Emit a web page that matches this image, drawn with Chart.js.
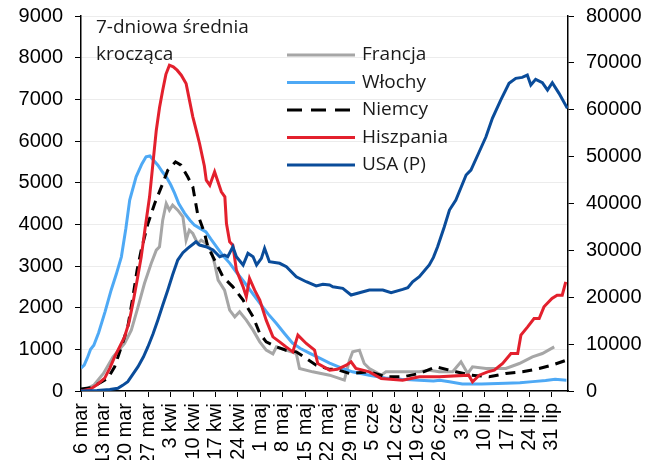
<!DOCTYPE html>
<html lang="pl">
<head>
<meta charset="UTF-8">
<title>7-dniowa średnia krocząca</title>
<style>
    body { margin: 0; background: #fff; }
    #chart { display: block; }
</style>
</head>
<body>
<canvas id="chart" width="662" height="460"></canvas>

<script src="https://cdn.jsdelivr.net/npm/chart.js"></script>
<script>
    // x = dzień od 6 marca, y = wartość (7-dniowa średnia)
    const tickLabels = ['6 mar','13 mar','20 mar','27 mar','3 kwi','10 kwi','17 kwi','24 kwi','1 maj','8 maj',
        '15 maj','22 maj','29 maj','5 cze','12 cze','19 cze','26 cze','3 lip','10 lip','17 lip','24 lip','31 lip'];

    const francja = [[0,0],[2,60],[4,140],[7,420],[10,820],[13.6,1140],[15.7,1460],[17.8,2020],[19.8,2580],
        [21.9,3060],[23.5,3380],[24.5,3460],[25.5,4100],[26.6,4500],[27.6,4340],[28.6,4460],[30.2,4340],
        [31.8,4180],[32.8,3620],[33.8,3860],[34.9,3780],[36.4,3540],[37.5,3620],[39.1,3540],[40.5,3400],
        [41.7,3060],[42.8,2660],[44.8,2420],[46.4,1940],[48,1780],[49.5,1900],[51.6,1700],[53.7,1460],
        [55.8,1180],[57.8,980],[59.9,890],[61,1060],[64,980],[67.2,900],[68.2,540],[72.3,460],[77.6,380],
        [82.2,260],[83.8,740],[84.8,940],[86.9,980],[88.4,660],[90,540],[93.7,380],[95.2,460],[100,460],
        [105.6,460],[108.7,500],[111.8,460],[116,460],[118.6,700],[120.7,420],[122.2,580],[126.4,540],
        [132.6,540],[136.8,660],[140.9,820],[144,900],[147.7,1060]];

    const wlochy = [[0,550],[1,620],[2,800],[3,1000],[4,1100],[5.5,1400],[7.5,1900],[9.4,2420],[11,2800],
        [12.6,3220],[14,3900],[15.2,4580],[17.2,5140],[19,5450],[20.3,5620],[21.5,5640],[22.5,5550],[24,5420],
        [25.5,5250],[26.6,5140],[28,4950],[29.2,4750],[30.5,4500],[32.3,4270],[34,4100],[35.4,3980],[37,3910],
        [39,3820],[40.5,3650],[42.3,3460],[44.3,3250],[46.4,3070],[48.5,2850],[50.5,2660],[53,2400],
        [55.8,2110],[58.4,1850],[61,1620],[63.5,1380],[66,1150],[68.5,1020],[71.3,910],[74.5,790],[77.6,670],
        [81,560],[84.7,460],[90,380],[95,310],[100,280],[105.6,260],[110,240],[112,260],[115,220],[119,170],
        [125,170],[132.6,185],[137,200],[141,225],[145,250],[148,280],[151.5,260]];

    const niemcy = [[0,50],[3,80],[6,200],[8.4,310],[10.5,580],[12.6,1060],[14.6,1540],[16.2,2260],
        [17.5,2900],[18.8,3380],[20.9,4020],[23,4500],[25.5,4980],[27.1,5300],[28.6,5420],[29.5,5500],
        [31.2,5420],[33.3,5140],[34.9,4900],[36.4,4250],[38.5,3800],[39.6,3460],[41.2,3220],[44.3,2740],
        [47.4,2500],[50.6,2180],[53.7,1780],[55.8,1380],[57.8,1180],[61,1060],[64,980],[67.2,940],[70.3,780],
        [73.4,620],[77.6,520],[79.7,520],[83.8,420],[90,460],[95.2,340],[100.4,340],[105.6,420],[110.8,580],
        [115,500],[117,460],[122,380],[127.4,340],[132.6,420],[137.8,460],[143,540],[147,620],[151.5,740]];

    const hiszpania = [[0,0],[3,50],[5,150],[7.4,310],[9,550],[10.5,820],[12,1050],[13.6,1300],[15,1650],
        [16.2,2110],[17.5,2650],[18.8,3220],[20,3900],[21.4,4660],[22.5,5500],[23.5,6260],[24.5,6800],
        [25.5,7220],[26.5,7600],[27.6,7820],[28.8,7780],[30,7700],[31.3,7580],[32.8,7380],[33.8,7000],
        [34.9,6580],[36,6250],[37,5940],[38.5,5400],[39.1,5060],[40.2,4940],[41.7,5260],[43.8,4780],
        [44.9,4660],[45.4,4020],[46.4,3580],[47.4,3500],[48.5,2900],[50.6,2500],[51.6,2260],[52.6,2700],
        [54.2,2420],[55.8,2180],[57.8,1700],[59.9,1300],[62,1180],[64,1060],[66.1,940],[67.7,1340],
        [70.3,1140],[72.9,980],[73.9,660],[77.6,500],[80,520],[82.8,620],[84.3,700],[85.8,540],[90,460],
        [93.7,300],[100.4,260],[105.6,340],[111.8,340],[121,380],[122.2,220],[124.3,380],[126.9,460],
        [129,500],[131.6,660],[134.2,900],[136.3,900],[137.3,1340],[139.4,1540],[141.4,1740],[143,1740],
        [144.5,2020],[147,2220],[148.6,2300],[150.2,2300],[151.3,2620]];

    // prawa oś
    const usa = [[0,0],[5,100],[9,300],[11.5,570],[13,1200],[14.6,2000],[16,3400],[17.8,5200],[19.5,7300],
        [20.9,9450],[22.5,12200],[24,15150],[25.5,18300],[27.1,21540],[28.6,24800],[30.2,27940],[31.8,29500],
        [33.3,30440],[35.9,31850],[37,31140],[39,30780],[41.2,30080],[43.3,28650],[44.8,29010],[45.8,28650],
        [47.4,30780],[48.5,28650],[50.6,26880],[52.1,29370],[53.7,28650],[54.8,26880],[56.3,28300],
        [57.3,30440],[58.8,27580],[62,27240],[64.1,26510],[67.2,24380],[70.3,23310],[73.4,22400],[75.5,22760],
        [77.6,22610],[78.6,22250],[81.7,21900],[84.3,20480],[86.9,20970],[90,21540],[94.2,21540],[96.8,20970],
        [100.4,21690],[102,22040],[103.5,23310],[105.6,24380],[108.7,26880],[110,28500],[111.3,30780],
        [113.4,35050],[115,38610],[117,40740],[120.2,46070],[121.7,47140],[124.3,51040],[126.4,54240],
        [128.4,58170],[131,62070],[133.6,65630],[135.7,66700],[137.7,66910],[139.3,67400],[140.4,65270],
        [141.9,66480],[144,65770],[145.6,64200],[147.1,65770],[149.2,63500],[151.8,60300]];

    const toXY = arr => arr.map(p => ({ x: p[0], y: p[1] }));

    const tickFont = { family: 'Arial, "Liberation Sans", sans-serif', size: 20 };
    const textFont = '19px "Open Sans", sans-serif';

    // legenda i podpis wewnątrz wykresu
    const legendInside = {
        id: 'legendInside',
        afterDraw(chart) {
            const ctx = chart.ctx;
            ctx.save();
            ctx.fillStyle = '#1a1a1a';
            ctx.font = textFont;
            ctx.textBaseline = 'alphabetic';
            ctx.textAlign = 'left';
            ctx.fillText('7-dniowa średnia', 96, 33);
            ctx.fillText('krocząca', 96, 60);

            ctx.textBaseline = 'middle';
            chart.data.datasets.forEach((ds, i) => {
                const y = 55 + i * 27.5;
                ctx.beginPath();
                ctx.strokeStyle = ds.borderColor;
                ctx.lineWidth = 3;
                ctx.setLineDash(ds.borderDash ? [15, 9] : []);
                ctx.moveTo(287, y);
                ctx.lineTo(355, y);
                ctx.stroke();
                ctx.setLineDash([]);
                ctx.fillText(ds.label, 362, y);
            });
            ctx.restore();
        }
    };

    // bez dodatkowego marginesu na pół etykiety u góry osi
    const noVPad = s => { s.paddingTop = 0; s.paddingBottom = 0; };

    new Chart(document.getElementById('chart'), {
        type: 'line',
        data: {
            datasets: [
                { label: 'Francja', data: toXY(francja), borderColor: '#a6a6a6', yAxisID: 'y', order: 5 },
                { label: 'Włochy', data: toXY(wlochy), borderColor: '#4ea9f5', yAxisID: 'y', order: 4 },
                { label: 'Niemcy', data: toXY(niemcy), borderColor: '#000000', borderDash: [10, 7], yAxisID: 'y', order: 3 },
                { label: 'Hiszpania', data: toXY(hiszpania), borderColor: '#e3202d', yAxisID: 'y', order: 2 },
                { label: 'USA (P)', data: toXY(usa), borderColor: '#0a4c9a', yAxisID: 'y1', order: 1 }
            ]
        },
        options: {
            responsive: false,
            animation: false,
            elements: {
                line: { borderWidth: 3, tension: 0, fill: false },
                point: { radius: 0 }
            },
            layout: { padding: { top: 16, left: 0, right: 0, bottom: 0 } },
            plugins: {
                legend: { display: false },
                tooltip: { enabled: false }
            },
            scales: {
                x: {
                    type: 'linear',
                    min: 0,
                    max: 152,
                    afterBuildTicks: s => { s.ticks = tickLabels.map((_, i) => ({ value: i * 7 })); },
                    afterFit: s => { s.height = 69; s.paddingLeft = 0; s.paddingRight = 0; },
                    ticks: {
                        autoSkip: false,
                        maxRotation: 90,
                        minRotation: 90,
                        padding: 6,
                        color: '#000',
                        font: tickFont,
                        callback: v => tickLabels[Math.round(v / 7)] || ''
                    },
                    grid: { drawOnChartArea: false, tickLength: 6, tickColor: '#000' },
                    border: { color: '#000', width: 1.5 }
                },
                y: {
                    position: 'left',
                    min: 0,
                    max: 9000,
                    afterFit: s => { s.width = 81; noVPad(s); },
                    ticks: { stepSize: 1000, padding: 12, color: '#000', font: tickFont, callback: v => String(v) },
                    grid: { color: '#ececec', lineWidth: 1, tickLength: 6, tickColor: '#000' },
                    border: { color: '#000', width: 1.5 }
                },
                y1: {
                    position: 'right',
                    min: 0,
                    max: 80000,
                    afterFit: s => { s.width = 94; noVPad(s); },
                    ticks: { stepSize: 10000, padding: 12, color: '#000', font: tickFont, callback: v => String(v) },
                    grid: { drawOnChartArea: false, tickLength: 6, tickColor: '#000' },
                    border: { color: '#000', width: 1.5 }
                }
            }
        },
        plugins: [legendInside]
    });
</script>
</body>
</html>
